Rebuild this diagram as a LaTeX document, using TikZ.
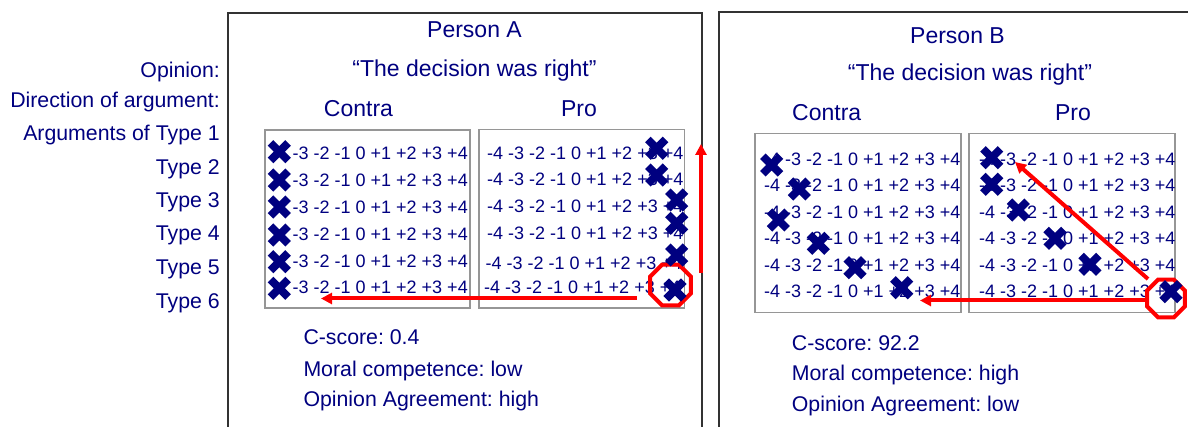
\documentclass[tikz,border=0pt]{standalone}
\usepackage{fontspec}
\setmainfont{Liberation Sans}
\usetikzlibrary{arrows.meta,shapes.geometric}
\definecolor{navyc}{RGB}{0,0,128}
\definecolor{redc}{RGB}{255,0,0}
\definecolor{boxgray}{RGB}{150,150,150}
\definecolor{framegray}{RGB}{50,50,50}
\frenchspacing
\begin{document}
\begin{tikzpicture}[x=1pt,y=-1pt,
 lab/.style={font=\fontsize{21.3}{25}\selectfont, text=navyc, inner sep=0, anchor=base east},
 head/.style={font=\fontsize{23}{27}\selectfont, text=navyc, inner sep=0, anchor=base},
 info/.style={font=\fontsize{21.3}{25}\selectfont, text=navyc, inner sep=0, anchor=base west},
 nums/.style={font=\fontsize{18}{21}\selectfont, text=navyc, inner sep=0, anchor=base west},
 numsr/.style={nums, anchor=base east},
 frame/.style={draw=framegray, line width=1.4pt},
 gbox/.style={draw=boxgray, line width=1.8pt},
 redarrow/.style={draw=redc, line width=4pt, -{Triangle[length=11pt,width=11pt]}},
 octo/.style={draw=redc, line width=4pt, regular polygon, regular polygon sides=8, inner sep=0},
 xm/.pic={\draw[navyc, line width=7.8pt] (-8.8,-8.8) -- (8.8,8.8) (-8.8,8.8) -- (8.8,-8.8);}
]
\path[use as bounding box, clip] (0,0) rectangle (1188,427);
\fill[white] (0,0) rectangle (1188,427);

% left labels
\node[lab] (lop) at (220,77.5) {Opinion:};
\node[lab] (ldir) at (220,107.5) {Direction of argument:};
\node[lab] (lt1) at (220,140.5) {Arguments of Type 1};
\node[lab] (lt2) at (220,174.5) {Type 2};
\node[lab] (lt3) at (220,207.5) {Type 3};
\node[lab] (lt4) at (220,240.5) {Type 4};
\node[lab] (lt5) at (220,274.5) {Type 5};
\node[lab] (lt6) at (220,309) {Type 6};

% outer frames
\draw[frame] (228,440) -- (228,13) -- (702,13) -- (702,440);
\draw[frame] (719,440) -- (719,12) -- (1200,12);

% Person A headings
\node[head] (pa) at (474.5,38) {Person A};
\node[head] (qa) at (474.5,76.7) {“The decision was right”};
\node[head] (ca) at (358.5,116.7) {Contra};
\node[head] (pra) at (579,116.7) {Pro};

% Person B headings
\node[head] (pb) at (957.5,43.3) {Person B};
\node[head] (qb) at (970,81) {“The decision was right”};
\node[head] (cb) at (826.7,120.7) {Contra};
\node[head] (prb) at (1073,120.7) {Pro};

% inner boxes
\draw[gbox] (265,130) rectangle (470,308);
\draw[gbox] (479,129.5) rectangle (684.5,308);
\draw[gbox] (755,133.5) rectangle (960.7,312.5);
\draw[gbox] (969.3,133.5) rectangle (1175,312.5);

% number rows A contra
\foreach \y [count=\i] in {160,187,214,241,267.5,294}
  \node[numsr] (acr\i) at (468,\y) {-3 -2 -1 0 +1 +2 +3 +4};
% number rows A pro
\foreach \x/\y [count=\i] in {487/159.3,487/186,487/212.7,487/239.3,485.5/270,484/293.3}
  \node[nums] (apr\i) at (\x,\y) {-4 -3 -2 -1 0 +1 +2 +3 +4};
% number rows B contra
\foreach \y [count=\i] in {165.5,192,218.5,245,271.5,297.5}
  \node[nums] (bcr\i) at (764,\y) {-4 -3 -2 -1 0 +1 +2 +3 +4};
% number rows B pro
\foreach \y [count=\i] in {165.5,192,218.5,245,271.5,297.5}
  \node[nums] (bpr\i) at (979,\y) {-4 -3 -2 -1 0 +1 +2 +3 +4};

% octagons
\node[octo, minimum size=44pt] (octA) at (670.5,285) {};
\node[octo, minimum size=41pt] (octB) at (1166,298.5) {};

% crosses
\foreach \x/\y in {279.3/151.7,279.3/180,279.3/207,279.3/235,279.3/261.7,279.3/288.3,
  656.7/148.3,656.7/175,676.7/200,676.7/223.3,676.7/255,675/290,
  771.7/165,799.3/189,778.3/220,818.3/243.3,855/267.7,901.7/287.7,
  991.7/157.7,991.7/184.3,1018.3/210,1055/238.3,1090/264.3,1171/291.7}
  \pic at (\x,\y) {xm};

% info texts
\node[info] (ia1) at (303.3,344.3) {C-score: 0.4};
\node[info] (ia2) at (303.3,376) {Moral competence: low};
\node[info] (ia3) at (303.3,406) {Opinion Agreement: high};
\node[info] (ib1) at (791.7,350) {C-score: 92.2};
\node[info] (ib2) at (791.7,381) {Moral competence: high};
\node[info] (ib3) at (791.7,411) {Opinion Agreement: low};

% arrows
\coordinate (ahs) at (637,298.5);
\coordinate (ahe) at (321,298.5);
\coordinate (avs) at (701,273);
\coordinate (ave) at (701,144);
\coordinate (bhs) at (1146,300.5);
\coordinate (bhe) at (920,300.5);
\coordinate (bds) at (1148,279);
\coordinate (bde) at (1015,162);
\draw[redarrow] (ahs) -- (ahe);
\draw[redarrow] (avs) -- (ave);
\draw[redarrow] (bhs) -- (bhe);
\draw[redarrow] (bds) -- (bde);
\end{tikzpicture}
\end{document}
